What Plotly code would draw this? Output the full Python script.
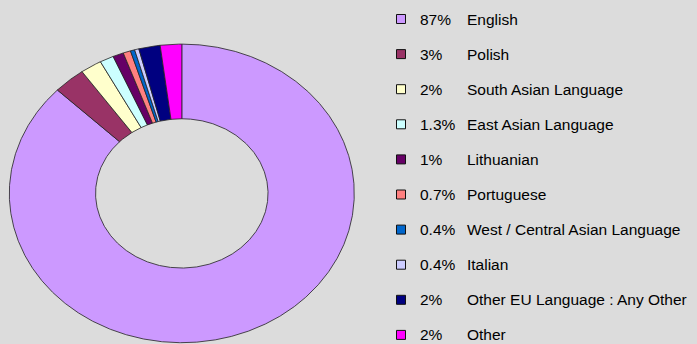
import numpy as np
import plotly.graph_objects as go

# Language share data
languages = ["English", "Polish", "South Asian Language", "East Asian Language",
             "Lithuanian", "Portuguese", "West / Central Asian Language",
             "Italian", "Other EU Language : Any Other", "Other"]
shares = [87, 3, 2, 1.3, 1, 0.7, 0.4, 0.4, 2, 2]
colors = ["#cc99ff", "#993366", "#ffffcc", "#ccffff", "#660066",
          "#ff8080", "#0066cc", "#ccccff", "#000080", "#ff00ff"]

W, H = 697, 344
BG = "#dcdcdc"

# Ring geometry (pixel-like axis units, y grows downward)
CX, CY = 181.8, 193.4
RX, RY = 172.5, 149.3
HOLE = 0.5

fig = go.Figure()

total = float(sum(shares))
start = 0.0
for name, val, col in zip(languages, shares, colors):
    frac = val / total
    a0 = 2 * np.pi * start
    a1 = 2 * np.pi * (start + frac)
    n = max(3, int(frac * 1440))
    t = np.linspace(a0, a1, n)
    xo = CX + RX * np.sin(t)
    yo = CY - RY * np.cos(t)
    xi = CX + RX * HOLE * np.sin(t[::-1])
    yi = CY - RY * HOLE * np.cos(t[::-1])
    xs = np.concatenate([xo, xi, xo[:1]])
    ys = np.concatenate([yo, yi, yo[:1]])
    fig.add_trace(go.Scatter(x=xs, y=ys, mode="lines", fill="toself",
                             fillcolor=col, line=dict(color="#222222", width=0.8),
                             name=name, showlegend=False, hoverinfo="name"))
    start += frac

# Legend: square swatches plus two text columns
row_y = [19 + 35.1 * i for i in range(len(languages))]
fig.add_trace(go.Scatter(x=[401] * len(languages), y=row_y, mode="markers",
                         marker=dict(symbol="square", size=9, color=colors,
                                     line=dict(color="#111111", width=1)),
                         showlegend=False, hoverinfo="skip"))

font = dict(family="Liberation Sans, Arial, sans-serif", size=15.5, color="#000000")
for name, val, y in zip(languages, shares, row_y):
    fig.add_annotation(x=418, y=y, text=f"{val:g}%", showarrow=False,
                       xanchor="left", yanchor="middle", font=font)
    fig.add_annotation(x=465, y=y, text=name, showarrow=False,
                       xanchor="left", yanchor="middle", font=font)

fig.update_layout(
    width=W, height=H,
    margin=dict(l=0, r=0, t=0, b=0),
    paper_bgcolor=BG, plot_bgcolor=BG,
    xaxis=dict(range=[0, W], visible=False, fixedrange=True),
    yaxis=dict(range=[H, 0], visible=False, fixedrange=True),
    showlegend=False,
)

fig.write_html("out.html")
